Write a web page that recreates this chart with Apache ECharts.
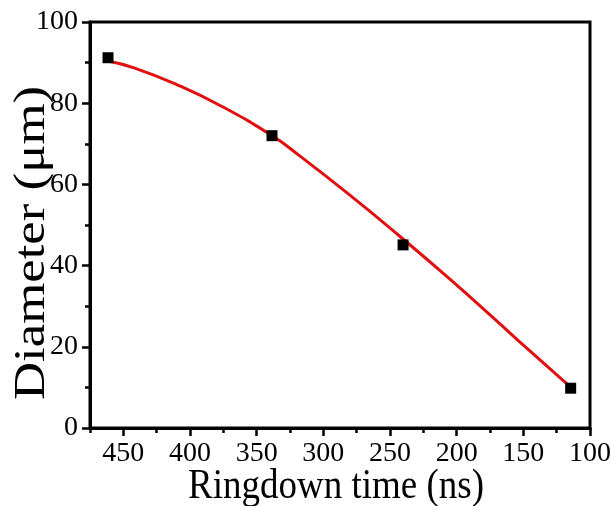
<!DOCTYPE html>
<html>
<head>
<meta charset="utf-8">
<script src="https://cdn.jsdelivr.net/npm/echarts@6/dist/echarts.min.js"></script>
<style>
html,body{margin:0;padding:0;background:#fff;}
#chart{width:614px;height:506px;}
</style>
</head>
<body>
<div id="chart"></div>
<script>
// Measured points (ringdown time ns, diameter µm)
var pointX = [461.5, 338.5, 240.2, 114.5];
var pointY = [91.2, 72.0, 45.1, 9.8];
// Fitted red curve
var curveX = [461.5, 442, 410, 376, 338, 318, 281, 244, 207, 170, 154, 116];
var curveY = [90.4, 88.7, 84.6, 79.2, 71.9, 67.1, 57.6, 47.6, 37.2, 26.4, 21.6, 10.5];
var xTitle = 'Ringdown time (ns)';
var yTitle = 'Diameter (\u03bcm)';
var xMin = 100, xMax = 475, yMin = 0, yMax = 100;

var FONT = '"Liberation Serif", "Times New Roman", serif';
var chart = echarts.init(document.getElementById('chart'), null, {renderer: 'canvas'});

function pairs(xs, ys){ return xs.map(function(x,i){ return [x, ys[i]]; }); }

var axisCommonX = {
  type: 'value', min: xMin, max: xMax, inverse: true, position: 'bottom',
  splitLine: {show: false}
};

chart.setOption({
  backgroundColor: '#fff',
  animation: false,
  grid: {left: 90, right: 21, top: 22, bottom: 78, show: true, borderColor: '#000', borderWidth: 3, containLabel: false},
  xAxis: [
    Object.assign({}, axisCommonX, {
      interval: 50,
      axisLine: {show: true, lineStyle: {color: '#000', width: 3}},
      axisTick: {show: true, inside: false, length: 8, lineStyle: {color: '#000', width: 2.5}},
      axisLabel: {show: true, color: '#000', fontFamily: FONT, fontSize: 28, margin: 12, showMaxLabel: false,
        formatter: function(v){ return v % 50 === 0 ? String(v) : ''; }}
    }),
    Object.assign({}, axisCommonX, {
      interval: 25,
      axisLine: {show: false},
      axisTick: {show: true, inside: false, length: 5, lineStyle: {color: '#000', width: 2.5}},
      axisLabel: {show: false}
    })
  ],
  yAxis: {
    type: 'value', min: yMin, max: yMax, interval: 20,
    axisLine: {show: true, lineStyle: {color: '#000', width: 3}},
    axisTick: {show: true, inside: false, length: 8, lineStyle: {color: '#000', width: 2.5}},
    minorTick: {show: true, splitNumber: 2, length: 5, lineStyle: {color: '#000', width: 2.5}},
    axisLabel: {show: true, color: '#000', fontFamily: FONT, fontSize: 28, margin: 12},
    splitLine: {show: false}
  },
  graphic: [
    {type: 'text', x: 336, y: 487, scaleY: 1.12, style: {text: xTitle, font: '37px ' + FONT, fill: '#000', textAlign: 'center', textVerticalAlign: 'middle'}},
    {type: 'text', x: 32, y: 243, rotation: Math.PI/2, scaleX: 1.2, style: {text: yTitle, font: '44px ' + FONT, fill: '#000', textAlign: 'center', textVerticalAlign: 'middle'}}
  ],
  series: [
    {type: 'line', xAxisIndex: 0, data: pairs(curveX, curveY), smooth: 0.5, showSymbol: false, symbol: 'none',
      lineStyle: {color: '#e01010', width: 3}, z: 2},
    {type: 'scatter', xAxisIndex: 0, data: pairs(pointX, pointY), symbol: 'rect', symbolSize: 11,
      itemStyle: {color: '#000', opacity: 1}, z: 3}
  ]
});
</script>
</body>
</html>
